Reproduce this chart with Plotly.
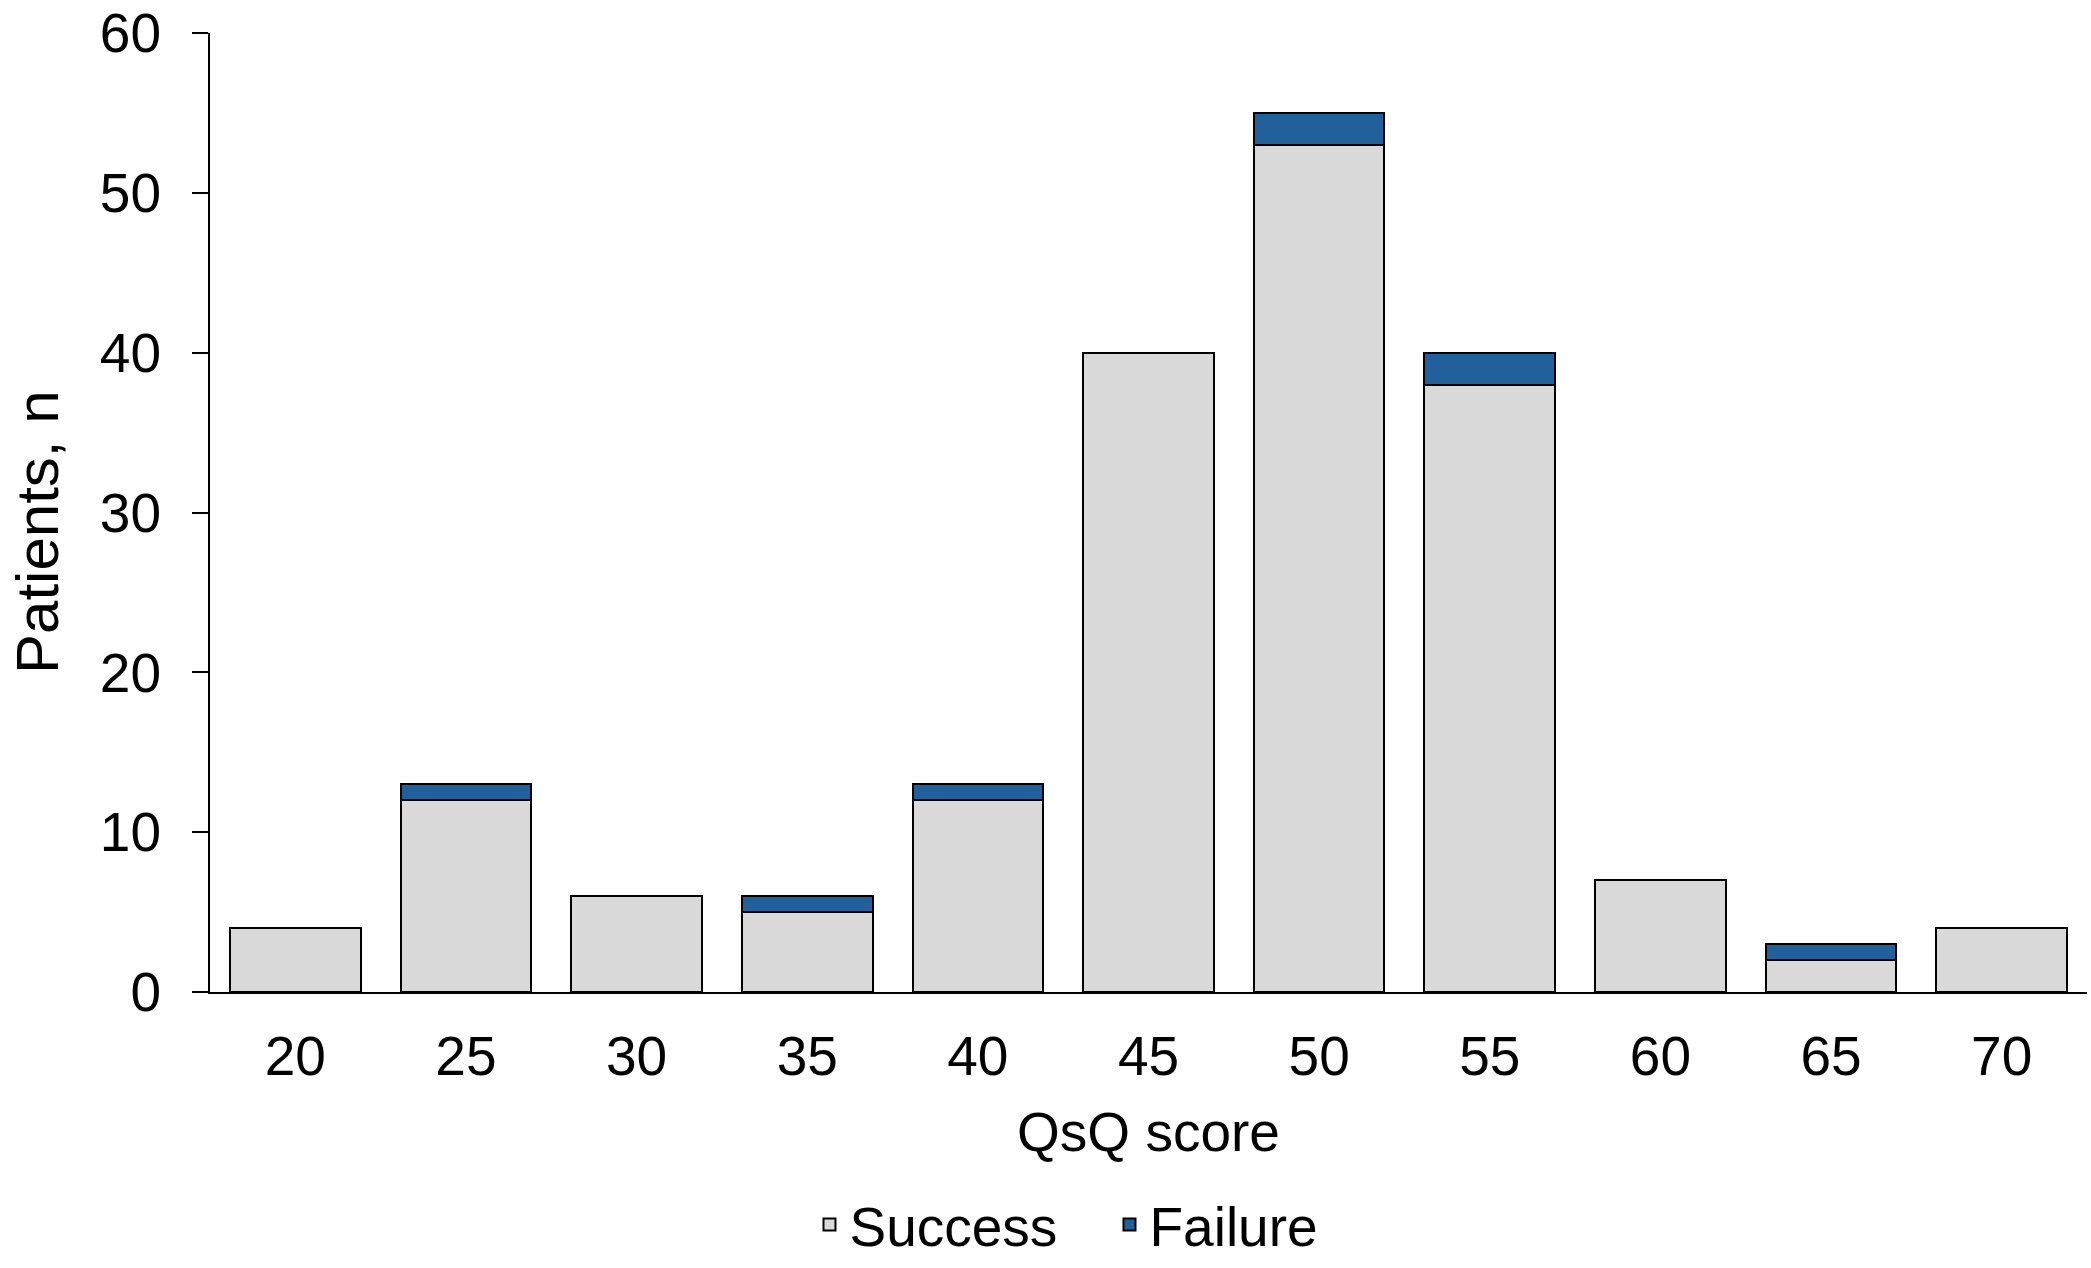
import plotly.graph_objects as go

categories = ["20", "25", "30", "35", "40", "45", "50", "55", "60", "65", "70"]
success = [4, 12, 6, 5, 12, 40, 53, 38, 7, 2, 4]
failure = [0, 1, 0, 1, 1, 0, 2, 2, 0, 1, 0]
y_ticks = [0, 10, 20, 30, 40, 50, 60]

FONT = "Liberation Sans, Arial, sans-serif"
FS = 55

fig = go.Figure()
fig.add_trace(go.Bar(
    x=categories, y=success, name="Success",
    marker=dict(color="#D9D9D9", line=dict(color="#000000", width=2)),
))
fig.add_trace(go.Bar(
    x=categories, y=[v if v else None for v in failure], name="Failure",
    marker=dict(color="#22609B", line=dict(color="#000000", width=2)),
))

fig.update_layout(
    width=2091, height=1268,
    barmode="stack", bargap=0.234,
    plot_bgcolor="white", paper_bgcolor="white",
    margin=dict(l=210, r=4, t=33, b=276, autoexpand=False),
    font=dict(family=FONT, size=FS, color="#000000"),
    showlegend=True,
    legend=dict(
        orientation="h", xref="container", yref="paper",
        x=0.5306, xanchor="center", y=-0.287, yanchor="bottom",
        font=dict(family=FONT, size=FS),
        entrywidth=255, entrywidthmode="pixels",
        traceorder="normal", tracegroupgap=0,
    ),
    annotations=[dict(
        text="Patients, n", textangle=-90,
        xref="paper", yref="paper", x=-0.092, y=0.48,
        xanchor="center", yanchor="middle", showarrow=False,
        font=dict(family=FONT, size=60, color="#000000"),
    )],
)
fig.update_xaxes(
    type="category", categoryorder="array", categoryarray=categories,
    showline=True, linecolor="#000000", linewidth=2,
    ticks="", showgrid=False, zeroline=False,
    tickfont=dict(family=FONT, size=FS),
    ticklabelstandoff=15, automargin=False,
    title=dict(text="QsQ score", font=dict(family=FONT, size=FS), standoff=26),
)
fig.update_yaxes(
    range=[0, 60], tickvals=y_ticks,
    showline=True, linecolor="#000000", linewidth=2,
    ticks="outside", ticklen=16, tickwidth=2, tickcolor="#000000",
    showgrid=False, zeroline=False,
    tickfont=dict(family=FONT, size=FS),
    ticklabelstandoff=20, ticklabeloverflow="allow", automargin=False,
)

fig.write_html("out.html")
